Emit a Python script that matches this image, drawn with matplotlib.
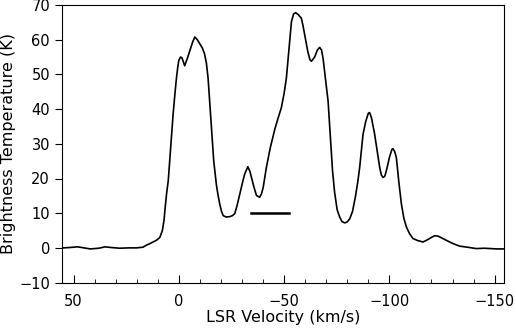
import numpy as np
from matplotlib import pyplot as plt
from matplotlib.ticker import MultipleLocator

velocity = [55, 52, 48, 45, 42, 38, 35, 32, 28, 24, 20, 17, 15.3, 13.5, 12.2, 10.6,
            9.0, 7.8, 7.0, 6.6, 5.8, 5.0, 4.3, 3.5, 2.7, 1.9, 1.1, 0.5, 0.0, -0.8,
            -1.5, -2.8, -4.0, -5.2, -6.5, -7.6, -8.8, -10.0, -11.2, -12.2, -13.1,
            -13.9, -14.7, -15.5, -16.6, -17.9, -18.7, -19.5, -20.3, -21.1, -22.5,
            -24.2, -25.5, -26.6, -27.8, -29.0, -30.2, -31.3, -32.8, -33.8, -34.5,
            -35.7, -36.9, -38.4, -39.3, -40.1, -41.6, -43.5, -45.6, -47.2, -48.7,
            -50.0, -51.1, -52.3, -53.5, -54.5, -55.5, -56.8, -58.2, -59.0, -59.8,
            -61.3, -62.3, -63.0, -64.5, -65.8, -66.9, -67.8, -68.5, -69.8, -70.9,
            -72.0, -73.0, -74.0, -75.2, -76.4, -77.5, -78.8, -80.0, -81.2, -82.5,
            -83.8, -85.0, -85.9, -87.5, -88.8, -90.0, -90.6, -91.5, -93.0, -94.2,
            -95.4, -96.2, -97.0, -97.8, -98.6, -100.0, -101.2, -101.7, -102.5,
            -103.3, -104.5, -105.7, -106.9, -108.1, -109.5, -111.2, -113.5, -116.0,
            -118.0, -119.9, -121.5, -123.1, -125.0, -127.0, -130.0, -133.4, -137.0,
            -141.3, -145, -148, -151, -154.3]
temperature = [0.0, 0.1, 0.3, 0.0, -0.3, -0.1, 0.3, 0.1, -0.1, 0.0, 0.0, 0.2, 0.8, 1.3,
               1.7, 2.2, 3.0, 5.0, 8.0, 10.8, 15.6, 19.4, 25.1, 32, 38.5, 44, 49, 52,
               54.0, 55.0, 54.8, 52.5, 54.5, 56.8, 59.2, 60.8, 60.0, 58.8, 57.6, 56.0,
               53.3, 49, 42, 34.7, 25, 18, 15, 12.5, 10.5, 9.3, 8.9, 9.0, 9.3, 9.9,
               12.5, 15.6, 18.7, 21.3, 23.4, 22, 20.3, 17.5, 15.1, 14.6, 15.6, 17.5,
               23.2, 29, 34.2, 37.5, 40.4, 44.5, 49, 57, 65.2, 67.4, 67.8, 67.2, 66.2,
               64, 61.4, 56.5, 54.2, 53.8, 55, 57, 57.8, 57, 54.7, 48, 42.3, 32, 22.3,
               16, 11, 8.9, 7.6, 7.2, 7.5, 8.4, 10.5, 14.5, 19, 23.2, 32.8, 36.5, 38.8,
               39.0, 37.5, 32.8, 28, 23.2, 21, 20.3, 20.6, 22.3, 26, 28.4, 28.6, 27.8,
               26.1, 19, 12.7, 8.5, 6.0, 4.2, 2.7, 2.1, 1.7, 2.3, 3.0, 3.5, 3.4, 2.8,
               2.2, 1.3, 0.5, 0.2, -0.2, -0.1, -0.2, -0.3, -0.3]

# velocity range marker
bar_v = [-34.5, -52.4]
bar_t = [10, 10]

fig = plt.figure(figsize=(5.16, 3.36), dpi=100)
ax = fig.add_axes([0.120, 0.159, 0.857, 0.826])
ax.plot(velocity, temperature, color='black', lw=1.2)
ax.plot(bar_v, bar_t, color='black', lw=1.8)

ax.set_xlim(55.5, -154.5)
ax.set_ylim(-10, 70)
ax.xaxis.set_major_locator(MultipleLocator(50))
ax.xaxis.set_minor_locator(MultipleLocator(10))
ax.yaxis.set_major_locator(MultipleLocator(10))
ax.tick_params(axis='x', which='major', direction='in', length=6, labelsize=10.5, pad=8)
ax.tick_params(axis='x', which='minor', direction='in', length=3)
ax.tick_params(axis='y', which='major', direction='out', length=5, labelsize=10.5)
ax.set_xlabel('LSR Velocity (km/s)', fontsize=11.5, labelpad=1)
ax.set_ylabel('Brightness Temperature (K)', fontsize=11.5)
ax.yaxis.set_label_coords(-0.103, 0.5)
plt.savefig('out.png', dpi=100)
